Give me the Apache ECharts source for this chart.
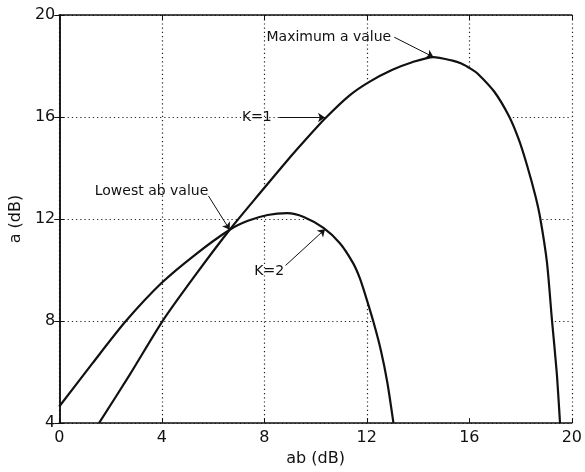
<!DOCTYPE html>
<html>
<head>
<meta charset="utf-8">
<script src="https://cdn.jsdelivr.net/npm/echarts@6/dist/echarts.min.js"></script>
<style>
html,body{margin:0;padding:0;background:#fff}
#chart{width:585px;height:472px}
</style>
</head>
<body>
<div id="chart"></div>
<script>
// K=1 curve, ab (dB) vs a (dB)
const k1Ab = [1.55, 2.74, 4.03, 5.31, 6.65, 7.8, 9.03, 9.54, 10.37, 11.33, 12.1, 13.0, 13.77, 14.6, 15.31, 15.69, 16.08, 16.33, 16.97, 17.55, 17.93, 18.26, 18.58, 18.77, 19.03, 19.22, 19.41, 19.54]
const k1A  = [4.0, 5.88, 8.0, 9.8, 11.58, 12.98, 14.45, 15.03, 15.94, 16.85, 17.38, 17.85, 18.15, 18.35, 18.22, 18.1, 17.88, 17.7, 17.0, 16.03, 15.12, 14.08, 12.9, 12.02, 10.3, 8.1, 6.0, 4.0]
// K=2 curve
const k2Ab = [0, 1.3, 2.6, 4.0, 5.3, 6.65, 7.36, 8.13, 8.9, 9.54, 10.31, 10.95, 11.46, 11.72, 11.95, 12.25, 12.55, 12.8, 13.04]
const k2A  = [4.65, 6.35, 8.0, 9.5, 10.6, 11.58, 11.93, 12.16, 12.23, 12.08, 11.65, 11.05, 10.28, 9.7, 9.0, 8.0, 6.85, 5.6, 4.0]
const xTicks = [0, 4, 8, 12, 16, 20]
const yTicks = [4, 8, 12, 16, 20]

const k1 = k1Ab.map((v, i) => [v, k1A[i]])
const k2 = k2Ab.map((v, i) => [v, k2A[i]])
// region between the curves (right of the crossing) is blanked over the grid
const xCross = 6.65
const region = k1.filter(p => p[0] >= xCross).concat(k2.filter(p => p[0] >= xCross).reverse())

const font = 'DejaVu Sans'
const ink = '#111'
const gridDots = { color: '#222', width: 1.2, type: [1.2, 3] }

const chart = echarts.init(document.getElementById('chart'))
chart.setOption({
  animation: false,
  backgroundColor: '#fff',
  grid: { left: 52, right: 12, top: 15, bottom: 47 },
  xAxis: [{
    type: 'value', min: xTicks[0], max: xTicks[xTicks.length - 1], interval: 4, z: 3,
    name: 'ab (dB)', nameLocation: 'middle', nameGap: 24,
    nameTextStyle: { color: ink, fontSize: 16, fontFamily: font },
    axisLine: { lineStyle: { color: ink, width: 1.5 } },
    axisTick: { inside: true, length: 5, lineStyle: { color: ink } },
    axisLabel: { color: ink, fontSize: 16, fontFamily: font, margin: 7 },
    splitLine: { show: false }
  }, {
    type: 'value', position: 'top', min: xTicks[0], max: xTicks[xTicks.length - 1], interval: 4,
    axisLine: { show: true, lineStyle: { color: ink, width: 1.5 } },
    axisTick: { show: true, inside: true, length: 5, lineStyle: { color: ink } },
    axisLabel: { show: false },
    splitLine: { show: true, lineStyle: gridDots }
  }],
  yAxis: [{
    type: 'value', min: yTicks[0], max: yTicks[yTicks.length - 1], interval: 4, z: 3,
    name: 'a (dB)', nameLocation: 'middle', nameGap: 30, nameRotate: 90,
    nameTextStyle: { color: ink, fontSize: 16, fontFamily: font },
    axisLine: { lineStyle: { color: ink, width: 1.5 } },
    axisTick: { inside: true, length: 5, lineStyle: { color: ink } },
    axisLabel: { color: ink, fontSize: 16, fontFamily: font, margin: 4 },
    splitLine: { show: false }
  }, {
    type: 'value', position: 'right', min: yTicks[0], max: yTicks[yTicks.length - 1], interval: 4,
    axisLine: { show: true, lineStyle: { color: ink, width: 1.5 } },
    axisTick: { show: true, inside: true, length: 5, lineStyle: { color: ink } },
    axisLabel: { show: false },
    splitLine: { show: true, lineStyle: gridDots }
  }],
  series: [{
    type: 'custom',
    silent: true,
    z: 1,
    data: [[0, 0]],
    renderItem: (params, api) => ({
      type: 'polygon',
      shape: { points: region.map(p => api.coord(p)) },
      style: { fill: '#fff' }
    })
  }, {
    name: 'K=1',
    type: 'line',
    data: k1,
    smooth: 0.25,
    showSymbol: false,
    silent: true,
    z: 4,
    lineStyle: { color: ink, width: 2.2 },
    markLine: {
      silent: true,
      symbol: ['none', 'arrow'],
      symbolSize: 7,
      label: { show: false },
      lineStyle: { color: ink, width: 1, type: 'solid' },
      data: [
        [{ coord: [13.07, 19.13] }, { coord: [14.6, 18.35] }],
        [{ coord: [8.58, 15.98] }, { coord: [10.37, 15.98] }],
        [{ coord: [5.82, 12.91] }, { coord: [6.65, 11.58] }],
        [{ coord: [8.83, 10.18] }, { coord: [10.37, 11.6] }]
      ]
    },
    markPoint: {
      silent: true,
      symbol: 'circle',
      symbolSize: 1,
      itemStyle: { color: 'rgba(0,0,0,0)' },
      label: { show: true, position: 'inside', color: ink, fontSize: 14, fontFamily: font },
      data: [
        { coord: [10.52, 19.14], label: { formatter: 'Maximum a value' } },
        { coord: [7.71, 15.98], label: { formatter: 'K=1' } },
        { coord: [3.6, 13.09], label: { formatter: 'Lowest ab value' } },
        { coord: [8.19, 9.93], label: { formatter: 'K=2' } }
      ]
    }
  }, {
    name: 'K=2',
    type: 'line',
    data: k2,
    smooth: 0.25,
    showSymbol: false,
    silent: true,
    z: 4,
    lineStyle: { color: ink, width: 2.2 }
  }]
})
</script>
</body>
</html>
